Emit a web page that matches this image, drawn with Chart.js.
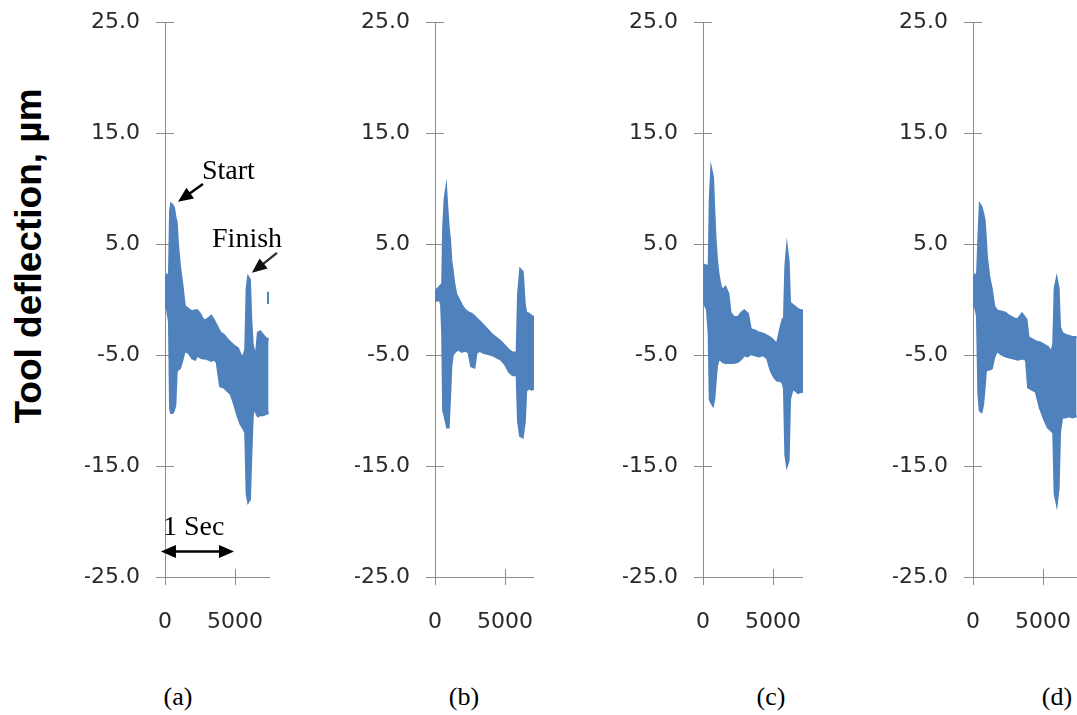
<!DOCTYPE html>
<html>
<head>
<meta charset="utf-8">
<script src="https://cdn.jsdelivr.net/npm/chart.js@4.4.1/dist/chart.umd.min.js"></script>
<style>
  html, body { margin: 0; padding: 0; background: #fff; }
  body { width: 1077px; height: 715px; position: relative; overflow: hidden; }
  .panel { position: absolute; top: -18px; height: 655px; overflow: hidden; }
  .panel canvas { display: block; }
  .cap { position: absolute; top: 684px; font: 26px "Liberation Serif", serif; line-height: 26px; transform: translateX(-50%); color: #000; }
  #ytitle { position: absolute; left: 29px; top: 256px; transform: translate(-50%, -50%) rotate(-90deg);
            white-space: nowrap; font: bold 37px "Liberation Sans", Arial, sans-serif; color: #000; }
</style>
</head>
<body>
<div id="ytitle">Tool deflection, µm</div>
<div class="panel" style="left:85px;width:224px"><canvas id="chartA" width="224" height="655"></canvas></div>
<div class="panel" style="left:355px;width:179px"><canvas id="chartB" width="224" height="655"></canvas></div>
<div class="panel" style="left:623px;width:180px"><canvas id="chartC" width="224" height="655"></canvas></div>
<div class="panel" style="left:893px;width:184px"><canvas id="chartD" width="224" height="655"></canvas></div>
<div class="cap" style="left:178px">(a)</div>
<div class="cap" style="left:464px">(b)</div>
<div class="cap" style="left:771px">(c)</div>
<div class="cap" style="left:1057px">(d)</div>
<script>
// axis ticks
const yTicks = [-25, -15, -5, 5, 15, 25]
const xTicks = [0, 5000]
const xMax = 7430

// (a) envelope of the deflection signal
const timeA  = [0, 150, 300, 380, 450, 530, 620, 720, 820, 920, 1050, 1200, 1400, 1700, 1950, 2150, 2300, 2500, 2700, 2900, 3100, 3300, 3500, 3700, 3950, 4200, 4450, 4700, 4950, 5200, 5400, 5600, 5750, 5850, 5950, 6050, 6150, 6250, 6400, 6550, 6650, 6800, 7000, 7200, 7400]
const upperA = [1.8, 2.2, 2.1, 8.0, 8.6, 8.5, 8.3, 7.5, 6.9, 4.8, 3.0, 1.6, -0.6, -0.9, -1.1, -1.0, -1.0, -1.3, -1.8, -1.9, -1.7, -1.5, -1.9, -2.4, -3.0, -3.2, -3.6, -3.9, -4.2, -4.4, -5.0, -5.2, -4.5, 1.0, 2.0, 1.8, -2.0, -4.0, -5.0, -4.5, -3.0, -2.9, -3.2, -3.5, -3.6]
const lowerA = [-0.4, -0.8, -2.0, -9.8, -10.2, -10.2, -10.0, -9.5, -6.5, -6.3, -6.2, -5.6, -4.6, -4.8, -5.3, -5.4, -5.0, -5.2, -5.3, -5.3, -5.4, -5.5, -5.4, -5.6, -7.8, -7.9, -8.2, -8.5, -9.4, -10.5, -11.2, -11.6, -12.0, -17.5, -18.2, -18.0, -14.0, -10.5, -9.5, -10.3, -10.5, -10.4, -10.4, -10.3, -10.2]
const strayTimeA = [7360, 7365]
const strayValA  = [0.7, -0.4]

// (b)
const timeB  = [0, 150, 300, 450, 530, 600, 700, 790, 880, 960, 1050, 1150, 1250, 1350, 1500, 1700, 1900, 2100, 2400, 2600, 2800, 2950, 3200, 3500, 3800, 4100, 4400, 4700, 5000, 5300, 5550, 5850, 5950, 6100, 6250, 6400, 6500, 6700, 6900, 7100, 7300]
const upperB = [0.3, 0.9, 1.1, 1.3, 1.3, 6.5, 9.0, 9.8, 8.0, 6.5, 5.5, 3.5, 2.6, 1.5, 0.5, 0.0, -0.5, -0.9, -1.2, -1.3, -1.5, -1.7, -2.0, -2.4, -2.8, -3.2, -3.5, -3.8, -4.2, -4.6, -4.8, -4.8, 0.5, 2.7, 2.5, -0.5, -1.2, -1.3, -1.5, -1.6, -1.6]
const lowerB = [-0.1, -0.1, 0.1, -0.4, -3.0, -10.0, -10.5, -11.0, -11.5, -11.5, -9.0, -6.0, -5.0, -4.8, -4.6, -4.5, -4.7, -4.6, -4.7, -6.0, -6.1, -4.8, -4.6, -4.8, -4.9, -5.0, -5.2, -5.4, -5.8, -6.5, -6.8, -6.8, -11.0, -12.3, -12.4, -11.0, -8.2, -8.0, -8.1, -8.0, -8.0]

// (c)
const timeC  = [0, 150, 300, 420, 500, 600, 700, 790, 880, 980, 1100, 1250, 1400, 1600, 1800, 1950, 2200, 2500, 2750, 2950, 3200, 3400, 3700, 4000, 4300, 4600, 4850, 5100, 5300, 5500, 5700, 5800, 5900, 6000, 6100, 6200, 6400, 6600, 6800, 7000, 7200]
const upperC = [2.8, 3.1, 3.0, 2.6, 9.0, 11.6, 11.0, 8.0, 5.5, 3.6, 2.2, 1.2, 0.8, 1.1, 0.5, -1.2, -1.6, -1.6, -1.2, -1.0, -1.3, -2.7, -2.8, -3.0, -3.1, -3.3, -3.5, -3.8, -4.0, -2.8, -1.8, -1.8, 3.0, 4.5, 3.5, -0.3, -0.5, -0.7, -0.9, -1.0, -1.0]
const lowerC = [0.0, -0.5, -0.9, -3.0, -9.0, -9.3, -9.5, -9.0, -7.5, -6.0, -5.4, -5.4, -5.6, -5.7, -5.7, -5.7, -5.7, -5.6, -5.3, -5.0, -5.1, -4.9, -5.0, -5.1, -5.0, -5.3, -6.4, -7.0, -7.3, -7.3, -7.5, -8.0, -14.0, -14.9, -14.5, -9.0, -8.0, -8.2, -8.4, -8.3, -8.3]

// (d)
const timeD  = [0, 150, 300, 400, 500, 600, 700, 810, 900, 980, 1150, 1330, 1500, 1700, 2000, 2300, 2600, 2900, 3200, 3500, 3800, 3950, 4200, 4500, 4800, 5100, 5350, 5600, 5750, 5850, 5980, 6100, 6200, 6350, 6600, 6850, 7100, 7400]
const upperD = [1.8, 2.2, 2.0, 5.5, 8.5, 8.3, 7.8, 7.2, 5.5, 3.8, 2.0, 0.9, -0.6, -1.0, -1.1, -1.2, -1.5, -1.7, -1.8, -1.3, -1.8, -3.4, -3.6, -3.8, -3.9, -4.1, -4.3, -4.8, -4.0, 1.0, 1.8, 1.0, -2.5, -3.0, -3.2, -3.3, -3.4, -3.4]
const lowerD = [-0.3, -0.6, -1.5, -8.5, -10.0, -10.1, -9.5, -8.0, -6.5, -6.3, -6.3, -6.2, -5.2, -4.6, -4.9, -5.1, -5.2, -5.3, -5.4, -5.3, -5.4, -7.9, -8.1, -8.3, -9.8, -10.8, -11.5, -11.8, -12.0, -17.5, -18.3, -17.0, -12.0, -10.6, -10.6, -10.5, -10.6, -10.5]

const blue = '#4f81bd'
const axisColor = '#8c8c8c'
const tickFont = { family: 'DejaVu Sans', size: 22 }
const serif = '"Liberation Serif", serif'

const pts = (xs, ys) => xs.map((x, i) => ({ x: x, y: ys[i] }))

// tick marks crossing the axis lines
const crossTicks = {
    id: 'crossTicks',
    beforeDatasetsDraw(chart) {
        const { ctx, scales: { x, y } } = chart
        ctx.save()
        ctx.strokeStyle = axisColor
        ctx.lineWidth = 1
        ctx.beginPath()
        y.ticks.forEach(t => {
            const py = Math.round(y.getPixelForValue(t.value)) + 0.5
            ctx.moveTo(x.left - 9, py)
            ctx.lineTo(x.left + 9, py)
        })
        x.ticks.forEach(t => {
            const px = Math.round(x.getPixelForValue(t.value)) + 0.5
            ctx.moveTo(px, y.bottom - 8)
            ctx.lineTo(px, y.bottom + 8)
        })
        ctx.stroke()
        ctx.restore()
    }
}

function arrowHead(ctx, fx, fy, tx, ty) {
    const a = Math.atan2(ty - fy, tx - fx)
    const len = 15, half = 6.5
    ctx.beginPath()
    ctx.moveTo(tx, ty)
    ctx.lineTo(tx - len * Math.cos(a) + half * Math.sin(a), ty - len * Math.sin(a) - half * Math.cos(a))
    ctx.lineTo(tx - len * Math.cos(a) - half * Math.sin(a), ty - len * Math.sin(a) + half * Math.cos(a))
    ctx.closePath()
    ctx.fill()
}

function arrow(ctx, fx, fy, tx, ty) {
    const a = Math.atan2(ty - fy, tx - fx)
    ctx.beginPath()
    ctx.moveTo(fx, fy)
    ctx.lineTo(tx - 10 * Math.cos(a), ty - 10 * Math.sin(a))
    ctx.stroke()
    arrowHead(ctx, fx, fy, tx, ty)
}

// Start / Finish / 1 Sec notes on panel (a), placed in data units
const notes = {
    id: 'notes',
    afterDraw(chart) {
        const { ctx, scales: { x, y } } = chart
        const X = v => x.getPixelForValue(v)
        const Y = v => y.getPixelForValue(v)
        ctx.save()
        ctx.fillStyle = '#000'
        ctx.strokeStyle = '#000'
        ctx.lineWidth = 2.5
        ctx.font = '28px ' + serif
        ctx.textBaseline = 'alphabetic'
        ctx.fillText('Start', X(2640), Y(10.9))
        arrow(ctx, X(2710), Y(10.4), X(930), Y(8.8))
        ctx.fillText('Finish', X(3360), Y(4.7))
        ctx.strokeStyle = '#333'
        ctx.fillStyle = '#111'
        arrow(ctx, X(8000), Y(4.2), X(6210), Y(2.4))
        ctx.fillStyle = '#000'
        ctx.strokeStyle = '#000'
        ctx.fillText('1 Sec', X(-140), Y(-21.2))
        const ly = Y(-22.7), l = X(-290), r = X(4930)
        ctx.beginPath()
        ctx.moveTo(l + 10, ly)
        ctx.lineTo(r - 10, ly)
        ctx.stroke()
        arrowHead(ctx, r, ly, l, ly)
        arrowHead(ctx, l, ly, r, ly)
        ctx.restore()
    }
}

function makePanel(id, time, upper, lower, extraSets, extraPlugins) {
    const sets = [
        { data: pts(time, upper), borderColor: blue, backgroundColor: blue, borderWidth: 2.5, pointRadius: 0, fill: '+1' },
        { data: pts(time, lower), borderColor: blue, backgroundColor: blue, borderWidth: 2.5, pointRadius: 0, fill: false }
    ].concat(extraSets || [])
    return new Chart(document.getElementById(id), {
        type: 'line',
        data: { datasets: sets },
        options: {
            responsive: false,
            animation: false,
            // fixed paddings larger than what the tick labels ask for, so the plot area is predictable
            layout: { padding: { top: 40, right: 40, left: 0, bottom: 0 } },
            plugins: { legend: { display: false }, tooltip: { enabled: false } },
            scales: {
                x: {
                    type: 'linear', min: 0, max: xMax,
                    afterBuildTicks: s => { s.ticks = xTicks.map(v => ({ value: v })) },
                    afterFit: s => { s.height = 60 },
                    grid: { display: false, drawTicks: false },
                    border: { color: axisColor, width: 1 },
                    ticks: { padding: 32, font: tickFont, color: '#2a2a2a', maxRotation: 0, callback: v => String(v) }
                },
                y: {
                    type: 'linear', min: -25, max: 25,
                    afterBuildTicks: s => { s.ticks = yTicks.map(v => ({ value: v })) },
                    afterFit: s => { s.width = 80 },
                    grid: { display: false, drawTicks: false },
                    border: { color: axisColor, width: 1 },
                    ticks: { padding: 25, font: tickFont, color: '#2a2a2a', callback: v => v.toFixed(1) }
                }
            }
        },
        plugins: [crossTicks].concat(extraPlugins || [])
    })
}

document.addEventListener('DOMContentLoaded', () => {
    const stray = { data: pts(strayTimeA, strayValA), borderColor: blue, borderWidth: 2, pointRadius: 0, fill: false }
    makePanel('chartA', timeA, upperA, lowerA, [stray], [notes])
    makePanel('chartB', timeB, upperB, lowerB)
    makePanel('chartC', timeC, upperC, lowerC)
    makePanel('chartD', timeD, upperD, lowerD)
})
</script>
</body>
</html>
